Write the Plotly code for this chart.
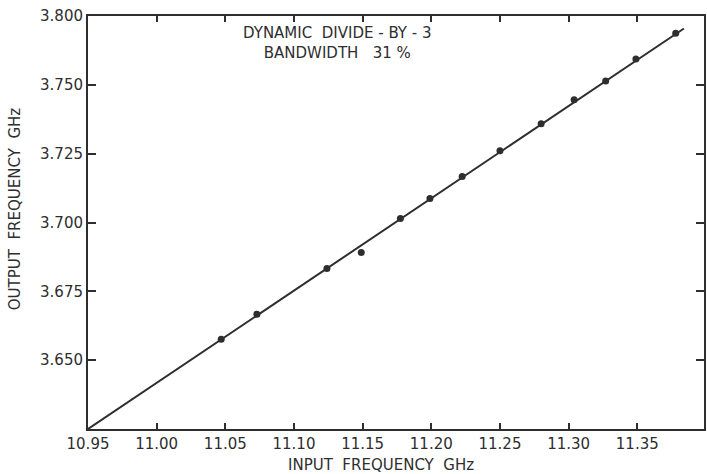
import plotly.graph_objects as go

# Measured data points (input GHz, output GHz)
input_freq = [11.047, 11.073, 11.124, 11.149, 11.1775, 11.199, 11.2225, 11.250,
              11.280, 11.304, 11.327, 11.349, 11.378]
output_freq = [3.6576, 3.6667, 3.6833, 3.6891, 3.7015, 3.7087, 3.7167, 3.7261,
               3.7359, 3.7446, 3.7514, 3.7594, 3.7688]

# Straight reference line
line_x = [10.95, 11.384]
line_y = [3.625, 3.7705]

x_tick_vals = [10.95, 11.00, 11.05, 11.10, 11.15, 11.20, 11.25, 11.30, 11.35]
x_tick_text = ["10.95", "11.00", "11.05", "11.10", "11.15", "11.20", "11.25", "11.30", "11.35"]
y_tick_vals = [3.650, 3.675, 3.700, 3.725, 3.750, 3.775]
y_tick_text = ["3.650", "3.675", "3.700", "3.725", "3.750", "3.800"]

ink = "#2e2e2e"
font_family = "DejaVu Sans"

fig = go.Figure()
fig.add_trace(go.Scatter(x=line_x, y=line_y, mode="lines",
                         line=dict(color=ink, width=2), showlegend=False,
                         cliponaxis=False))
fig.add_trace(go.Scatter(x=input_freq, y=output_freq, mode="markers",
                         marker=dict(color=ink, size=7), showlegend=False,
                         cliponaxis=False))

axis_common = dict(showgrid=False, zeroline=False, showline=True, linecolor=ink,
                   linewidth=2, ticks="inside", tickcolor=ink, tickwidth=1.5,
                   mirror="ticks",
                   tickfont=dict(family=font_family, size=15, color=ink))

fig.update_xaxes(range=[10.95, 11.3986], tickvals=x_tick_vals, ticktext=x_tick_text,
                 ticklen=6, **axis_common)
fig.update_yaxes(range=[3.625, 3.77505], tickvals=y_tick_vals, ticktext=y_tick_text,
                 ticklen=8, **axis_common)

fig.add_annotation(text="DYNAMIC  DIVIDE - BY - 3<br>BANDWIDTH   31 %",
                   xref="paper", yref="paper", x=0.405, y=0.985,
                   xanchor="center", yanchor="top", showarrow=False, align="center",
                   font=dict(family=font_family, size=15, color=ink))
fig.add_annotation(text="INPUT  FREQUENCY  GHz", xref="paper", yref="paper",
                   x=0.475, y=-0.087, xanchor="center", yanchor="middle",
                   showarrow=False,
                   font=dict(family=font_family, size=15, color=ink))
fig.add_annotation(text="OUTPUT  FREQUENCY  GHz", xref="paper", yref="paper",
                   x=-0.118, y=0.533, textangle=-90, xanchor="center", yanchor="middle",
                   showarrow=False,
                   font=dict(family=font_family, size=15, color=ink))

fig.update_layout(width=707, height=474, margin=dict(l=88, r=1, t=16, b=45),
                  plot_bgcolor="white", paper_bgcolor="white")

fig.write_html("out.html")
